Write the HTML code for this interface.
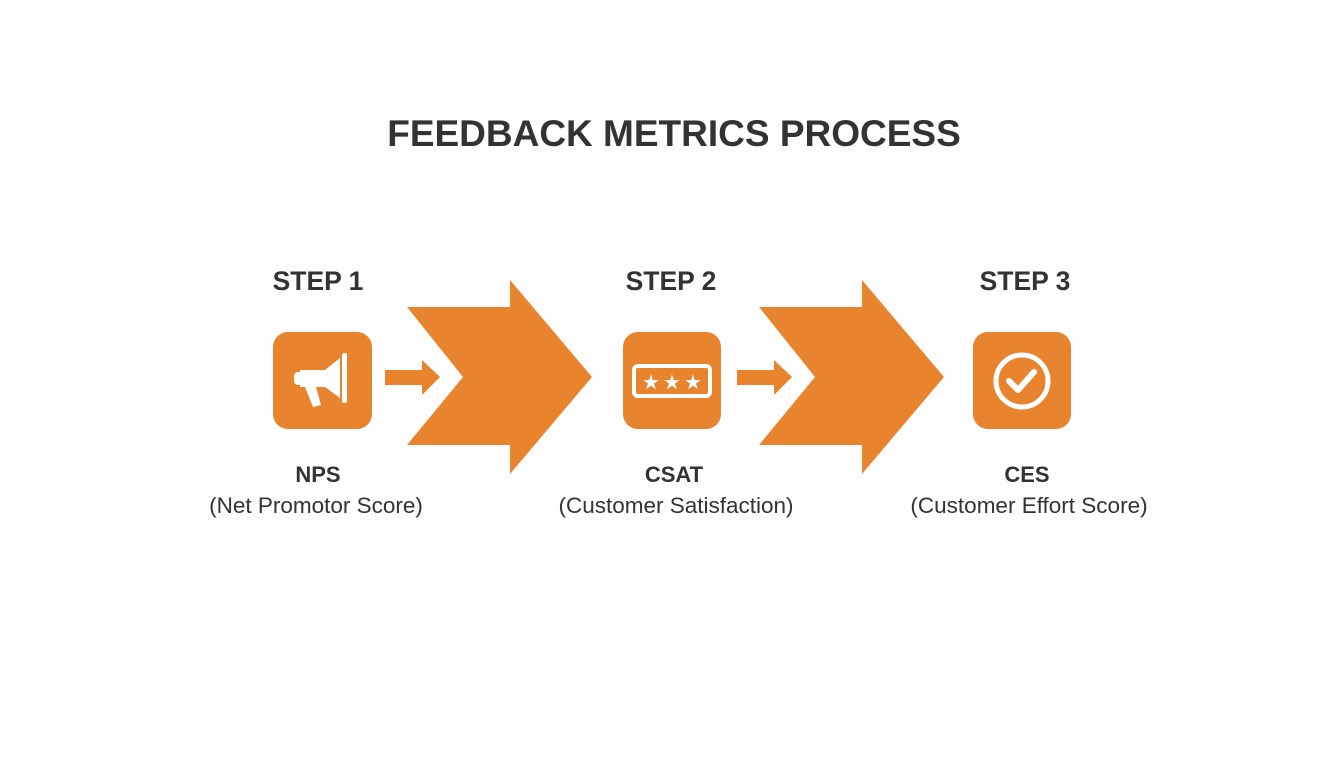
<!DOCTYPE html>
<html><head><style>
body{margin:0;width:1344px;height:768px;background:#fdfdfd;font-family:"Liberation Sans",sans-serif;color:#333;position:relative;overflow:hidden}
.t{position:absolute;white-space:nowrap;transform:translateX(-50%)}
</style></head><body>
<div class="t" style="left:674px;top:113px;font-size:37px;font-weight:bold;color:#333">FEEDBACK METRICS PROCESS</div>
<div class="t" style="left:318px;top:266px;font-size:26.5px;font-weight:bold">STEP 1</div>
<div class="t" style="left:671px;top:266px;font-size:26.5px;font-weight:bold">STEP 2</div>
<div class="t" style="left:1025px;top:266px;font-size:26.5px;font-weight:bold">STEP 3</div>
<div class="t" style="left:318px;top:462px;font-size:22px;font-weight:bold">NPS</div>
<div class="t" style="left:316px;top:493px;font-size:22.5px">(Net Promotor Score)</div>
<div class="t" style="left:674px;top:462px;font-size:22px;font-weight:bold">CSAT</div>
<div class="t" style="left:676px;top:493px;font-size:22.5px">(Customer Satisfaction)</div>
<div class="t" style="left:1027px;top:462px;font-size:22px;font-weight:bold">CES</div>
<div class="t" style="left:1029px;top:493px;font-size:22.5px">(Customer Effort Score)</div>
<svg width="1344" height="768" style="position:absolute;left:0;top:0">
<g fill="#E8832E">
<polygon points="407,307 510,307 510,280 592,377 510,474 510,445 407,445 463,377"/>
<polygon points="759,307 862,307 862,280 944,377 862,474 862,445 759,445 815,377"/>
<polygon points="385,370 422,370 422,360 440,377 422,395 422,385 385,385"/>
<polygon points="737,370 774,370 774,360 792,377 774,395 774,385 737,385"/>
<rect x="273" y="332" width="99" height="97" rx="15"/>
<rect x="623" y="332" width="98" height="97" rx="15"/>
<rect x="973" y="332" width="98" height="97" rx="15"/>
</g>
<g fill="#fff">
<path d="M300,370 L325,370 L340,358 L340,398 L325,387 L300,387 Z"/>
<rect x="294" y="372" width="8" height="13" rx="4"/>
<rect x="342" y="353" width="5" height="50" rx="2"/>
<polygon points="305,387 316,387 321,405 313,407"/>
</g>
<rect x="634" y="366" width="76" height="30" rx="4" fill="none" stroke="#fff" stroke-width="4"/>
<g fill="#fff" font-size="20" font-family="DejaVu Sans" text-anchor="middle">
<text x="651" y="389">★</text><text x="672" y="389">★</text><text x="693" y="389">★</text>
</g>
<circle cx="1022" cy="381" r="26" fill="none" stroke="#fff" stroke-width="5"/>
<polyline points="1009,381 1018,390 1034,372" fill="none" stroke="#fff" stroke-width="6" stroke-linecap="round" stroke-linejoin="round"/>
</svg>
</body></html>
